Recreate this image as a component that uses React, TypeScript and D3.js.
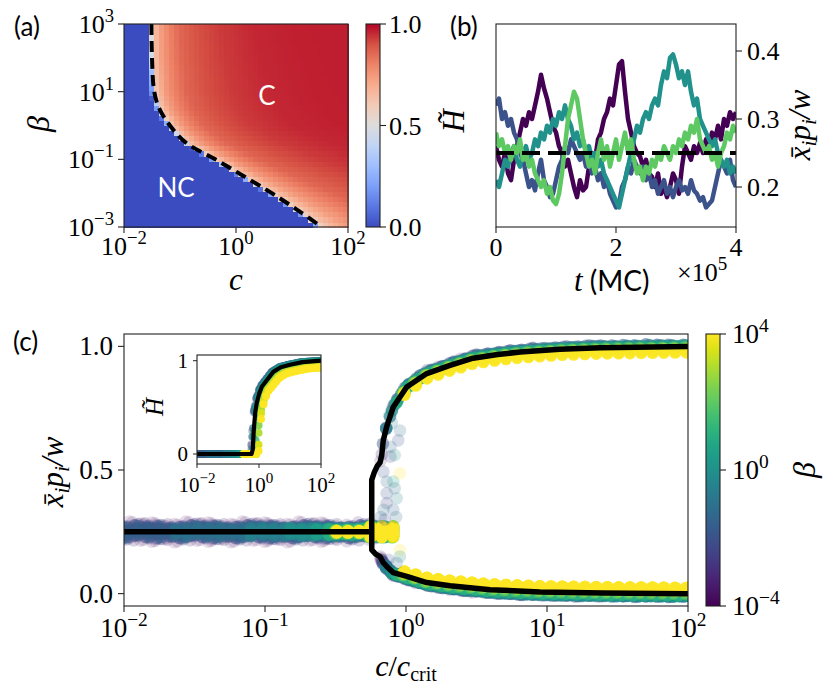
import React from "react";
import * as d3 from "d3";

const SERIF = "Liberation Serif";
const SANS = "Lato";

// ---------- Panel (a): phase diagram ----------
const boundaryLogBeta = [3, 2, 1, 0.5, 0, -0.5, -1, -1.5, -2, -2.5, -3];
const boundaryLogC = [-1.51, -1.5, -1.46, -1.37, -1.18, -0.9, -0.37, 0.14, 0.64, 1.1, 1.53];
// H~ of the heatmap vs (decades of c beyond the boundary) / stretch(beta)
const profileOffset = [-0.3, -0.09, -0.03, 0.0, 0.05, 0.15, 0.3, 0.5, 0.8, 1.2, 1.8, 2.5, 4];
const profileValue = [0, 0, 0.28, 0.56, 0.64, 0.73, 0.8, 0.86, 0.9, 0.93, 0.955, 0.965, 0.97];
const stretchLogBeta = [3, 0, -1, -2, -3];
const stretchValue = [1, 1.2, 1.6, 2.2, 3];
const HEAT_COLS = 45;
const HEAT_ROWS = 40;
const aXTicks = [-2, 0, 2];
const aYTicks = [3, 1, -1, -3];
const aCbTicks = [0, 0.5, 1];
const coolwarm = ["#3b4cc0", "#5977e3", "#7b9ff9", "#9ebeff", "#c0d4f5", "#dddcdc", "#f2cbb7", "#f7ac8e", "#ee8468", "#d65244", "#b40426"];

// ---------- Panel (b): time series ----------
const bTimeMax = 4;
const seriesPurple = [0.26,0.24,0.23,0.25,0.22,0.21,0.24,0.26,0.28,0.30,0.29,0.31,0.30,0.32,0.34,0.365,0.345,0.33,0.31,0.29,0.28,0.26,0.25,0.23,0.24,0.22,0.20,0.185,0.21,0.195,0.20,0.23,0.25,0.24,0.27,0.28,0.30,0.31,0.33,0.32,0.35,0.38,0.385,0.34,0.30,0.28,0.26,0.25,0.245,0.23,0.24,0.22,0.215,0.20,0.22,0.19,0.20,0.185,0.20,0.22,0.21,0.19,0.23,0.26,0.25,0.24,0.26,0.25,0.265,0.25,0.27,0.26,0.28,0.27,0.29,0.27,0.30,0.29,0.31,0.30,0.31];
const seriesBlue = [0.32,0.33,0.30,0.31,0.29,0.30,0.28,0.27,0.25,0.24,0.22,0.20,0.21,0.195,0.22,0.24,0.21,0.20,0.185,0.19,0.21,0.23,0.24,0.26,0.25,0.27,0.26,0.25,0.24,0.25,0.23,0.24,0.22,0.23,0.21,0.22,0.20,0.21,0.19,0.18,0.17,0.175,0.20,0.21,0.23,0.22,0.24,0.23,0.22,0.23,0.21,0.22,0.20,0.21,0.19,0.20,0.21,0.19,0.20,0.185,0.20,0.21,0.195,0.20,0.19,0.21,0.195,0.19,0.18,0.185,0.17,0.175,0.18,0.20,0.22,0.24,0.23,0.22,0.24,0.21,0.20];
const seriesTeal = [0.21,0.20,0.22,0.24,0.23,0.25,0.26,0.24,0.23,0.25,0.26,0.24,0.25,0.27,0.26,0.28,0.27,0.29,0.28,0.30,0.29,0.31,0.30,0.32,0.30,0.29,0.27,0.28,0.26,0.27,0.25,0.26,0.24,0.25,0.23,0.24,0.22,0.21,0.20,0.19,0.18,0.17,0.19,0.21,0.23,0.25,0.27,0.29,0.28,0.30,0.31,0.30,0.32,0.33,0.32,0.35,0.37,0.36,0.39,0.395,0.38,0.36,0.37,0.35,0.37,0.34,0.32,0.33,0.30,0.29,0.28,0.27,0.26,0.27,0.25,0.24,0.23,0.24,0.22,0.23,0.22];
const seriesGreen = [0.28,0.26,0.27,0.25,0.26,0.24,0.26,0.25,0.27,0.24,0.25,0.23,0.24,0.22,0.21,0.20,0.21,0.19,0.20,0.18,0.175,0.19,0.22,0.26,0.30,0.32,0.34,0.33,0.30,0.27,0.25,0.23,0.24,0.22,0.25,0.27,0.24,0.26,0.23,0.25,0.27,0.24,0.26,0.28,0.25,0.27,0.24,0.22,0.23,0.21,0.23,0.22,0.24,0.23,0.25,0.24,0.26,0.25,0.24,0.26,0.25,0.27,0.26,0.28,0.27,0.29,0.28,0.30,0.27,0.26,0.25,0.26,0.24,0.25,0.23,0.25,0.26,0.28,0.27,0.29,0.28];
const seriesList = [seriesPurple, seriesBlue, seriesTeal, seriesGreen];
const seriesColors = ["#440154", "#3b528b", "#21918c", "#5ec962"];
const bXTicks = [0, 2, 4];
const bYTicks = [0.2, 0.3, 0.4];
const bMean = 0.25;

// ---------- Panel (c): bifurcation ----------
const flatLevel = 0.25;
const splitLogX = -0.243;
const upperLogX = [-0.243, -0.225, -0.205, -0.184, -0.172, -0.161, -0.137, -0.09, 0.005, 0.147, 0.312, 0.475, 0.65, 0.81, 1.09, 1.38, 2.0];
const upperVal = [0.46, 0.49, 0.515, 0.53, 0.56, 0.62, 0.675, 0.755, 0.836, 0.89, 0.923, 0.952, 0.967, 0.977, 0.988, 0.994, 0.999];
const lowerLogX = [-0.243, -0.215, -0.184, -0.161, -0.137, -0.09, 0.005, 0.147, 0.312, 0.596, 0.95, 1.4, 2.0];
const lowerVal = [0.177, 0.16, 0.15, 0.125, 0.11, 0.085, 0.07, 0.045, 0.032, 0.016, 0.007, 0.003, 0.0];
const insetLogX = [-2, -0.24, -0.2, -0.17, -0.12, -0.07, 0.0, 0.09, 0.25, 0.46, 0.7, 1.0, 1.4, 2];
const insetH = [0, 0, 0.05, 0.25, 0.45, 0.55, 0.64, 0.72, 0.79, 0.88, 0.93, 0.957, 0.985, 1.0];

const levelLogBeta = [-4, -3.5, -3, -2.5, -2, -1.5, -1, -0.5, 0, 0.5, 1, 1.5, 2, 2.5, 3, 3.5, 4];
const levelCritC = [400, 126, 34, 12.6, 4.4, 1.38, 0.43, 0.126, 0.066, 0.043, 0.035, 0.032, 0.0316, 0.031, 0.031, 0.031, 0.031];
const levelOnset = [-0.22, -0.22, -0.22, -0.21, -0.2, -0.19, -0.18, -0.16, -0.14, -0.11, -0.08, -0.06, -0.05, -0.04, -0.03, -0.03, -0.02];
const levelFlatSpread = [0.042, 0.038, 0.034, 0.03, 0.026, 0.022, 0.019, 0.017, 0.015, 0.013, 0.011, 0.009, 0.007, 0.005, 0.004, 0.003, 0.002];
const levelAlpha = [0.13, 0.16, 0.22, 0.32, 0.45, 0.55, 0.62, 0.66, 0.7, 0.72, 0.74, 0.76, 0.8, 0.84, 0.87, 0.9, 0.92];
const levelUpperScale = [1.03, 1.03, 1.03, 1.025, 1.02, 1.02, 1.015, 1.01, 1.01, 1.005, 1.0, 1.0, 0.995, 0.99, 0.985, 0.978, 0.97];
const levelLowerScale = [1.06, 1.06, 1.06, 1.05, 1.05, 1.05, 1.045, 1.04, 1.04, 1.03, 1.02, 1.0, 0.98, 0.96, 0.94, 0.92, 0.91];
const levelInsetShift = [-0.06, -0.06, -0.06, -0.05, -0.05, -0.04, -0.03, -0.02, 0, 0.02, 0.05, 0.08, 0.11, 0.14, 0.16, 0.18, 0.2];
const levelInsetScale = [1, 1, 1, 1, 1, 1, 1, 1, 0.995, 0.99, 0.98, 0.97, 0.96, 0.95, 0.94, 0.935, 0.93];
const agentJitter = [
  [-0.95, -0.3, 0.35, 0.9],
  [-0.7, -0.15, 0.25, 0.6],
  [-1.0, -0.45, 0.1, 0.75],
  [-0.55, 0.05, 0.4, 1.0],
  [-0.85, -0.2, 0.5, 0.8],
];
// scattered transition points: [log10(c/ccrit), value, level index]
const cloudPoints = [
  [-0.043, 0.66, 6], [-0.055, 0.62, 4], [-0.11, 0.594, 5], [-0.11, 0.554, 3], [-0.08, 0.56, 8],
  [-0.16, 0.493, 4], [-0.043, 0.487, 16], [-0.137, 0.453, 5], [-0.09, 0.453, 9], [-0.08, 0.426, 6],
  [-0.137, 0.406, 4], [-0.137, 0.366, 3], [-0.066, 0.386, 7], [-0.16, 0.339, 6], [-0.09, 0.339, 5],
  [-0.043, 0.177, 16], [-0.043, 0.15, 8], [-0.066, 0.124, 5], [-0.125, 0.137, 4], [-0.12, 0.72, 9],
  [-0.1, 0.69, 7], [-0.15, 0.3, 3], [-0.07, 0.31, 6], [-0.18, 0.31, 5],
];
const cXTicks = [-2, -1, 0, 1, 2];
const cYTicks = [0, 0.5, 1];
const cCbTicks = [-4, 0, 4];
const insetXTicks = [-2, 0, 2];
const insetYTicks = [0, 1];

function interp(xs: number[], ys: number[]) {
  return d3.scaleLinear().domain(xs).range(ys).clamp(true);
}

function Pow({ x, y, exp, size, anchor = "middle" }: { x: number; y: number; exp: string; size: number; anchor?: string }) {
  return (
    <text x={x} y={y} style={{ fontFamily: SERIF }} fontSize={size} textAnchor={anchor as any} fill="#000">
      10<tspan dy={-0.42 * size} fontSize={size * 0.72}>{exp}</tspan>
    </text>
  );
}

const fmtExp = (e: number) => (e < 0 ? "\u2212" + Math.abs(e) : String(e));

function XLabel({ tx, ty, size }: { tx: number; ty: number; size: number }) {
  const sub = size * 0.7;
  const d = size * 0.2;
  return (
    <text transform={`translate(${tx},${ty}) rotate(-90)`} style={{ fontFamily: SERIF }} fontStyle="italic" fontSize={size} textAnchor="middle">
      x̄<tspan dy={d} fontSize={sub}>i</tspan><tspan dy={-d}>p</tspan><tspan dy={d} fontSize={sub}>i</tspan><tspan dy={-d}>/w</tspan>
    </text>
  );
}

export default function App() {
  // ---- Panel (a)
  const xA = d3.scaleLog().domain([1e-2, 1e2]).range([124, 348]);
  const yA = d3.scaleLog().domain([1e-3, 1e3]).range([227, 24]);
  const cwScale = d3.scaleLinear<string>().domain(coolwarm.map((_, i) => i / (coolwarm.length - 1))).range(coolwarm).interpolate(d3.interpolateRgb);
  const boundaryAt = interp(boundaryLogBeta, boundaryLogC);
  const stretchAt = interp(stretchLogBeta, stretchValue);
  const profile = interp(profileOffset, profileValue);
  const cells: JSX.Element[] = [];
  for (let i = 0; i < HEAT_COLS; i++) {
    for (let j = 0; j < HEAT_ROWS; j++) {
      const lc0 = -2 + (i * 4) / HEAT_COLS;
      const lc1 = -2 + ((i + 1) * 4) / HEAT_COLS;
      const lb0 = -3 + (j * 6) / HEAT_ROWS;
      const lb1 = -3 + ((j + 1) * 6) / HEAT_ROWS;
      const lbC = (lb0 + lb1) / 2;
      const d = (lc0 + lc1) / 2 - boundaryAt(lbC);
      const v = profile(d > 0 ? d / stretchAt(lbC) : d);
      const x0 = xA(10 ** lc0), x1 = xA(10 ** lc1);
      const y0 = yA(10 ** lb1), y1 = yA(10 ** lb0);
      cells.push(<rect key={`h${i}-${j}`} x={x0} y={y0} width={x1 - x0 + 0.6} height={y1 - y0 + 0.6} fill={cwScale(v)} />);
    }
  }
  const boundaryLine = d3.line<number>()
    .x((_, k) => xA(10 ** boundaryLogC[k]))
    .y((b) => yA(10 ** b))
    .curve(d3.curveCatmullRom.alpha(0.5))(boundaryLogBeta);

  // ---- Panel (b)
  const xB = d3.scaleLinear().domain([0, bTimeMax]).range([496, 736]);
  const yB = d3.scaleLinear().domain([0.1412, 0.4397]).range([227, 24]);
  const tGrid = d3.range(seriesPurple.length).map((k) => (k * bTimeMax) / (seriesPurple.length - 1));
  const lineB = d3.line<number>().x((_, k) => xB(tGrid[k])).y((v) => yB(v));

  // ---- Panel (c)
  const xC = d3.scaleLog().domain([1e-2, 1e2]).range([124, 688]);
  const yC = d3.scaleLinear().domain([-0.05, 1.05]).range([606, 334]);
  const upperAt = interp(upperLogX, upperVal);
  const lowerAt = interp(lowerLogX, lowerVal);
  const insetAt = interp(insetLogX, insetH);
  const xI = d3.scaleLog().domain([1e-2, 1e2]).range([197, 321]);
  const yI = d3.scaleLinear().domain([0, 1]).range([454, 360.7]);
  const cGrid = d3.range(-2, 2.0001, 0.08);
  const viridisOf = (L: number) => d3.interpolateViridis((levelLogBeta[L] + 4) / 8);

  const dots: JSX.Element[] = [];
  const insetDots: JSX.Element[] = [];
  levelLogBeta.forEach((_, L) => {
    const col = viridisOf(L);
    const a = levelAlpha[L];
    cGrid.forEach((g, gi) => {
      const lx = g - Math.log10(levelCritC[L]);
      if (lx < -2.02 || lx > 2.02) return;
      const jit = agentJitter[(gi + L) % agentJitter.length];
      const vals: number[] = [];
      if (lx < levelOnset[L]) {
        let s = levelFlatSpread[L];
        if (lx > -0.3) s = Math.max(s, 0.022);
        jit.forEach((j) => vals.push(flatLevel + s * j));
      } else {
        const bs = levelFlatSpread[L] * 0.3;
        vals.push(flatLevel + (upperAt(lx) - flatLevel) * levelUpperScale[L] + bs * jit[0]);
        for (let k = 1; k < 4; k++) vals.push(flatLevel + (lowerAt(lx) - flatLevel) * levelLowerScale[L] + bs * jit[k]);
      }
      vals.forEach((v, k) => {
        dots.push(<circle key={`d${L}-${gi}-${k}`} cx={xC(10 ** lx)} cy={yC(v)} r={6.3} fill={col} fillOpacity={a} />);
      });
      const hv = insetAt(lx - levelInsetShift[L]) * levelInsetScale[L];
      insetDots.push(<circle key={`i${L}-${gi}`} cx={xI(10 ** lx)} cy={yI(hv)} r={3.9} fill={col} fillOpacity={Math.min(1, a * 1.1)} />);
    });
  });
  cloudPoints.forEach(([lx, v, L], k) => {
    dots.push(<circle key={`c${k}`} cx={xC(10 ** lx)} cy={yC(v)} r={6.3} fill={viridisOf(L)} fillOpacity={0.2} />);
  });

  const flatPath = d3.line<number>().x((lx) => xC(10 ** lx)).y(() => yC(flatLevel))([-2, splitLogX]);
  const bifPts: [number, number][] = [
    ...lowerLogX.map((lx, k) => [lx, lowerVal[k]] as [number, number]).reverse(),
    ...upperLogX.map((lx, k) => [lx, upperVal[k]] as [number, number]),
  ];
  const bifPath = d3.line<[number, number]>().x((p) => xC(10 ** p[0])).y((p) => yC(p[1]))(bifPts);
  const insetPath = d3.line<number>().x((lx) => xI(10 ** lx)).y((_, k) => yI(insetH[k]))(insetLogX);

  const cbStops = d3.range(0, 1.0001, 0.05);
  const TICK = 6;
  const axisColor = "#222";
  const serif = { fontFamily: SERIF };
  const sans = { fontFamily: SANS };

  return (
    <svg width={831} height={693} style={{ position: "absolute", left: 0, top: 0, background: "#fff" }}>
      <defs>
        <linearGradient id="cwGrad" x1="0" y1="1" x2="0" y2="0">
          {cbStops.map((t) => <stop key={t} offset={t} stopColor={cwScale(t)} />)}
        </linearGradient>
        <linearGradient id="vGrad" x1="0" y1="1" x2="0" y2="0">
          {cbStops.map((t) => <stop key={t} offset={t} stopColor={d3.interpolateViridis(t)} />)}
        </linearGradient>
        <clipPath id="clipB"><rect x={496} y={24} width={240} height={203} /></clipPath>
        <clipPath id="clipC"><rect x={124} y={334} width={564} height={272} /></clipPath>
        <clipPath id="clipI"><rect x={197} y={355} width={124} height={109} /></clipPath>
      </defs>
      <rect x={0} y={0} width={831} height={693} fill="#fff" />

      {/* ===== Panel (a) ===== */}
      <g shapeRendering="crispEdges">{cells}</g>
      <path d={boundaryLine || ""} fill="none" stroke="#000" strokeWidth={4} strokeDasharray="11 6" />
      <rect x={124} y={24} width={224} height={203} fill="none" stroke={axisColor} strokeWidth={1.1} />
      <text x={176} y={197} style={sans} fontSize={26} fill="#fff" textAnchor="middle">NC</text>
      <text x={267} y={105} style={sans} fontSize={26} fill="#fff" textAnchor="middle">C</text>
      {aXTicks.map((e) => (
        <g key={`ax${e}`}>
          <line x1={xA(10 ** e)} x2={xA(10 ** e)} y1={227} y2={227 + TICK} stroke={axisColor} strokeWidth={1.1} />
          <Pow x={xA(10 ** e)} y={255} exp={fmtExp(e)} size={26} />
        </g>
      ))}
      {aYTicks.map((e) => (
        <g key={`ay${e}`}>
          <line x1={124 - TICK} x2={124} y1={yA(10 ** e)} y2={yA(10 ** e)} stroke={axisColor} strokeWidth={1.1} />
          <Pow x={114} y={yA(10 ** e) + 9} exp={fmtExp(e)} size={26} anchor="end" />
        </g>
      ))}
      <text x={236} y={290} style={serif} fontStyle="italic" fontSize={31} textAnchor="middle">c</text>
      <text transform="translate(49,124) rotate(-90)" style={serif} fontStyle="italic" fontSize={32} textAnchor="middle">β</text>
      {/* colorbar (a) */}
      <rect x={366} y={24} width={14} height={203} fill="url(#cwGrad)" stroke={axisColor} strokeWidth={1.1} />
      {aCbTicks.map((t) => {
        const y = 227 - t * 203;
        return (
          <g key={`acb${t}`}>
            <line x1={380} x2={380 + TICK} y1={y} y2={y} stroke={axisColor} strokeWidth={1.1} />
            <text x={389} y={y + 9} style={serif} fontSize={26}>{t.toFixed(1)}</text>
          </g>
        );
      })}
      <text transform="translate(464,121) rotate(-90)" style={serif} fontStyle="italic" fontSize={32} textAnchor="middle">H̃</text>
      <text x={14} y={36} style={sans} fontSize={26}>(a)</text>

      {/* ===== Panel (b) ===== */}
      <g clipPath="url(#clipB)">
        {seriesList.map((s, k) => (
          <path key={`s${k}`} d={lineB(s) || ""} fill="none" stroke={seriesColors[k]} strokeWidth={4.5} strokeLinejoin="round" />
        ))}
        <line x1={xB(0)} x2={xB(bTimeMax)} y1={yB(bMean)} y2={yB(bMean)} stroke="#000" strokeWidth={3.8} strokeDasharray="18 8" />
      </g>
      <rect x={496} y={24} width={240} height={203} fill="none" stroke={axisColor} strokeWidth={1.1} />
      {bXTicks.map((t) => (
        <g key={`bx${t}`}>
          <line x1={xB(t)} x2={xB(t)} y1={227} y2={227 + TICK} stroke={axisColor} strokeWidth={1.1} />
          <text x={xB(t)} y={256} style={serif} fontSize={26} textAnchor="middle">{t}</text>
        </g>
      ))}
      {bYTicks.map((v) => (
        <g key={`by${v}`}>
          <line x1={736} x2={736 + TICK} y1={yB(v)} y2={yB(v)} stroke={axisColor} strokeWidth={1.1} />
          <text x={747} y={yB(v) + 9} style={serif} fontSize={26}>{v.toFixed(1)}</text>
        </g>
      ))}
      <text x={574} y={291} fontSize={31}>
        <tspan style={serif} fontStyle="italic">t</tspan>
        <tspan style={sans} fontSize={28}> (MC)</tspan>
      </text>
      <text x={677} y={281} style={serif} fontSize={26}>
        ×10<tspan dy={-11} fontSize={19}>5</tspan>
      </text>
      <XLabel tx={810} ty={125} size={31} />
      <text x={450} y={36} style={sans} fontSize={26}>(b)</text>

      {/* ===== Panel (c) ===== */}
      <g clipPath="url(#clipC)">
        {dots}
        <path d={flatPath || ""} fill="none" stroke="#000" strokeWidth={5.5} />
        <path d={bifPath || ""} fill="none" stroke="#000" strokeWidth={5.5} strokeLinejoin="round" />
      </g>
      <rect x={124} y={334} width={564} height={272} fill="none" stroke={axisColor} strokeWidth={1.1} />
      {cXTicks.map((e) => (
        <g key={`cx${e}`}>
          <line x1={xC(10 ** e)} x2={xC(10 ** e)} y1={606} y2={606 + TICK} stroke={axisColor} strokeWidth={1.1} />
          <Pow x={xC(10 ** e)} y={637} exp={fmtExp(e)} size={27} />
        </g>
      ))}
      {cYTicks.map((v) => (
        <g key={`cy${v}`}>
          <line x1={124 - TICK} x2={124} y1={yC(v)} y2={yC(v)} stroke={axisColor} strokeWidth={1.1} />
          <text x={113} y={yC(v) + 9} style={serif} fontSize={27} textAnchor="end">{v.toFixed(1)}</text>
        </g>
      ))}
      <text x={406} y={676} style={serif} fontSize={30} textAnchor="middle">
        <tspan fontStyle="italic">c</tspan>/<tspan fontStyle="italic">c</tspan><tspan dy={5} fontSize={20}>crit</tspan>
      </text>
      <XLabel tx={63} ty={472} size={31} />
      <text x={13} y={351} style={sans} fontSize={26}>(c)</text>

      {/* inset */}
      <rect x={197} y={355} width={124} height={109} fill="#fff" />
      <g clipPath="url(#clipI)">
        {insetDots}
        <path d={insetPath || ""} fill="none" stroke="#000" strokeWidth={4.2} strokeLinejoin="round" />
      </g>
      <rect x={197} y={355} width={124} height={109} fill="none" stroke={axisColor} strokeWidth={1.1} />
      {insetXTicks.map((e) => (
        <g key={`ix${e}`}>
          <line x1={xI(10 ** e)} x2={xI(10 ** e)} y1={464} y2={464 + 4} stroke={axisColor} strokeWidth={1} />
          <Pow x={xI(10 ** e)} y={492} exp={fmtExp(e)} size={21} />
        </g>
      ))}
      {insetYTicks.map((v) => (
        <g key={`iy${v}`}>
          <line x1={193} x2={197} y1={yI(v)} y2={yI(v)} stroke={axisColor} strokeWidth={1} />
          <text x={188} y={yI(v) + 7} style={serif} fontSize={21} textAnchor="end">{v}</text>
        </g>
      ))}
      <text transform="translate(163,407) rotate(-90)" style={serif} fontStyle="italic" fontSize={25} textAnchor="middle">H̃</text>

      {/* colorbar (c) */}
      <rect x={706} y={334} width={14} height={272} fill="url(#vGrad)" stroke={axisColor} strokeWidth={1.1} />
      {cCbTicks.map((e) => {
        const y = 606 - ((e + 4) / 8) * 272;
        return (
          <g key={`ccb${e}`}>
            <line x1={720} x2={720 + TICK} y1={y} y2={y} stroke={axisColor} strokeWidth={1.1} />
            <Pow x={732} y={y + 9} exp={fmtExp(e)} size={27} anchor="start" />
          </g>
        );
      })}
      <text transform="translate(815,470) rotate(-90)" style={serif} fontStyle="italic" fontSize={32} textAnchor="middle">β</text>
    </svg>
  );
}
